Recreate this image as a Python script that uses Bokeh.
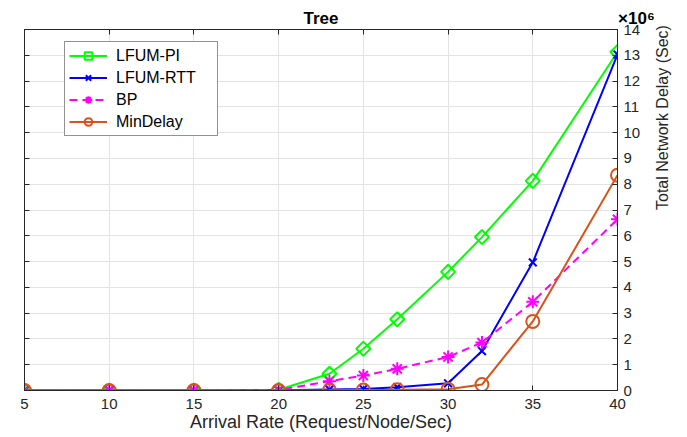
import math
from bokeh.plotting import figure
from bokeh.models import (Range1d, LinearAxis, FixedTicker, Legend, LegendItem)
from bokeh.embed import file_html
from bokeh.resources import INLINE

# ---- data (values in units of 1e6 sec) ----
arrival_rate = [5, 10, 15, 20, 23, 25, 27, 30, 32, 35, 40]
lfum_pi = [0, 0, 0, 0.03, 0.65, 1.62, 2.76, 4.6, 5.95, 8.13, 13.13]
lfum_rtt = [0, 0, 0, 0.01, 0.04, 0.06, 0.13, 0.28, 1.53, 4.97, 13.03]
bp = [0, 0, 0, 0.02, 0.36, 0.58, 0.84, 1.3, 1.86, 3.44, 6.64]
min_delay = [0, 0, 0, 0, 0.01, 0.02, 0.03, 0.05, 0.23, 2.68, 8.35]

x_ticks = [5, 10, 15, 20, 25, 30, 35, 40]
y_ticks = list(range(0, 15))

title_text = "Tree"
scale_text = "\u00d710\u2076"
x_label = "Arrival Rate (Request/Node/Sec)"
y_label = "Total Network Delay (Sec)"
series_names = ["LFUM-PI", "LFUM-RTT", "BP", "MinDelay"]

FONT = "Liberation Sans"
AX = "#262626"
GRID = "#e3e3e3"

p = figure(width=687, height=437, output_backend="svg", toolbar_location=None,
           x_range=Range1d(5, 40), y_range=Range1d(0, 14),
           y_axis_location="right",
           min_border_left=24, min_border_right=70, min_border_top=29, min_border_bottom=47)
p.background_fill_color = "white"
p.border_fill_color = "white"
p.outline_line_color = AX
p.outline_line_width = 1


def style_axis(ax):
    ax.axis_line_color = AX
    ax.axis_line_width = 1
    ax.major_tick_line_color = AX
    ax.major_tick_in = 5
    ax.major_tick_out = 0
    ax.minor_tick_line_color = None
    ax.major_label_text_font = FONT
    ax.major_label_text_color = AX
    ax.major_label_text_font_size = "15px"


def ticks_only(ax):
    style_axis(ax)
    ax.major_label_text_font_size = "1px"
    ax.major_label_text_color = None
    ax.major_label_standoff = 0


# bottom x axis
xax = p.xaxis[0]
xax.ticker = FixedTicker(ticks=x_ticks)
style_axis(xax)
xax.major_label_standoff = 8
xax.axis_label = x_label
xax.axis_label_text_font = FONT
xax.axis_label_text_font_size = "18px"
xax.axis_label_text_font_style = "normal"
xax.axis_label_text_color = AX
xax.axis_label_standoff = 0

# right y axis
yax = p.yaxis[0]
yax.ticker = FixedTicker(ticks=y_ticks)
style_axis(yax)
yax.major_label_standoff = 6
yax.axis_label = y_label
yax.axis_label_text_font = FONT
yax.axis_label_text_font_size = "16px"
yax.axis_label_text_font_style = "normal"
yax.axis_label_text_color = AX
yax.axis_label_standoff = 19
try:
    yax.axis_label_orientation = math.pi / 2
except Exception:
    pass

# top and left axes (ticks only, box style)
top_ax = LinearAxis(ticker=FixedTicker(ticks=x_ticks))
ticks_only(top_ax)
p.add_layout(top_ax, "above")
left_ax = LinearAxis(ticker=FixedTicker(ticks=y_ticks))
ticks_only(left_ax)
p.add_layout(left_ax, "left")

# top text row: title and exponent
title_ax = LinearAxis(ticker=FixedTicker(ticks=[22.5, 40]))
title_ax.axis_line_color = None
title_ax.major_tick_line_color = None
title_ax.minor_tick_line_color = None
title_ax.major_tick_in = 0
title_ax.major_tick_out = 0
title_ax.major_label_standoff = 2
title_ax.major_label_text_font = FONT
title_ax.major_label_text_font_size = "17px"
title_ax.major_label_text_font_style = "bold"
title_ax.major_label_text_color = "black"
title_ax.major_label_overrides = {22.5: title_text, 40: "\u00a0" * 8 + scale_text}
p.add_layout(title_ax, "above")

p.xgrid.ticker = FixedTicker(ticks=x_ticks)
p.ygrid.ticker = FixedTicker(ticks=y_ticks)
p.xgrid.grid_line_color = GRID
p.ygrid.grid_line_color = GRID

# series
items = []
green = "#00ff00"
l1 = p.line(arrival_rate, lfum_pi, line_color=green, line_width=2)
m1 = p.scatter(arrival_rate, lfum_pi, marker="square", angle=math.pi / 4, size=10,
               fill_color=None, line_color=green, line_width=2)
items.append(LegendItem(label=series_names[0], renderers=[l1, m1]))

blue = "#0000ff"
l2 = p.line(arrival_rate, lfum_rtt, line_color=blue, line_width=2)
m2 = p.scatter(arrival_rate, lfum_rtt, marker="x", size=11,
               line_color=blue, line_width=2)
items.append(LegendItem(label=series_names[1], renderers=[l2, m2]))

magenta = "#ff00ff"
l3 = p.line(arrival_rate, bp, line_color=magenta, line_width=2, line_dash="8 5")
m3 = p.scatter(arrival_rate, bp, marker="asterisk", size=13,
               line_color=magenta, line_width=2)
items.append(LegendItem(label=series_names[2], renderers=[l3, m3]))

orange = "#d95319"
l4 = p.line(arrival_rate, min_delay, line_color=orange, line_width=2)
m4 = p.scatter(arrival_rate, min_delay, marker="circle", size=13,
               fill_color=None, line_color=orange, line_width=2)
items.append(LegendItem(label=series_names[3], renderers=[l4, m4]))

legend = Legend(items=items, location=(40, 254))
legend.label_text_font = FONT
legend.label_text_font_size = "16px"
legend.label_text_color = "black"
legend.glyph_width = 38
legend.glyph_height = 19
legend.label_height = 19
legend.label_width = 97
legend.spacing = 3
legend.padding = 4
legend.label_standoff = 9
legend.border_line_color = AX
legend.border_line_width = 1
legend.background_fill_color = "white"
legend.background_fill_alpha = 1
p.add_layout(legend, "center")

open("out.html", "w").write(file_html(p, INLINE))
